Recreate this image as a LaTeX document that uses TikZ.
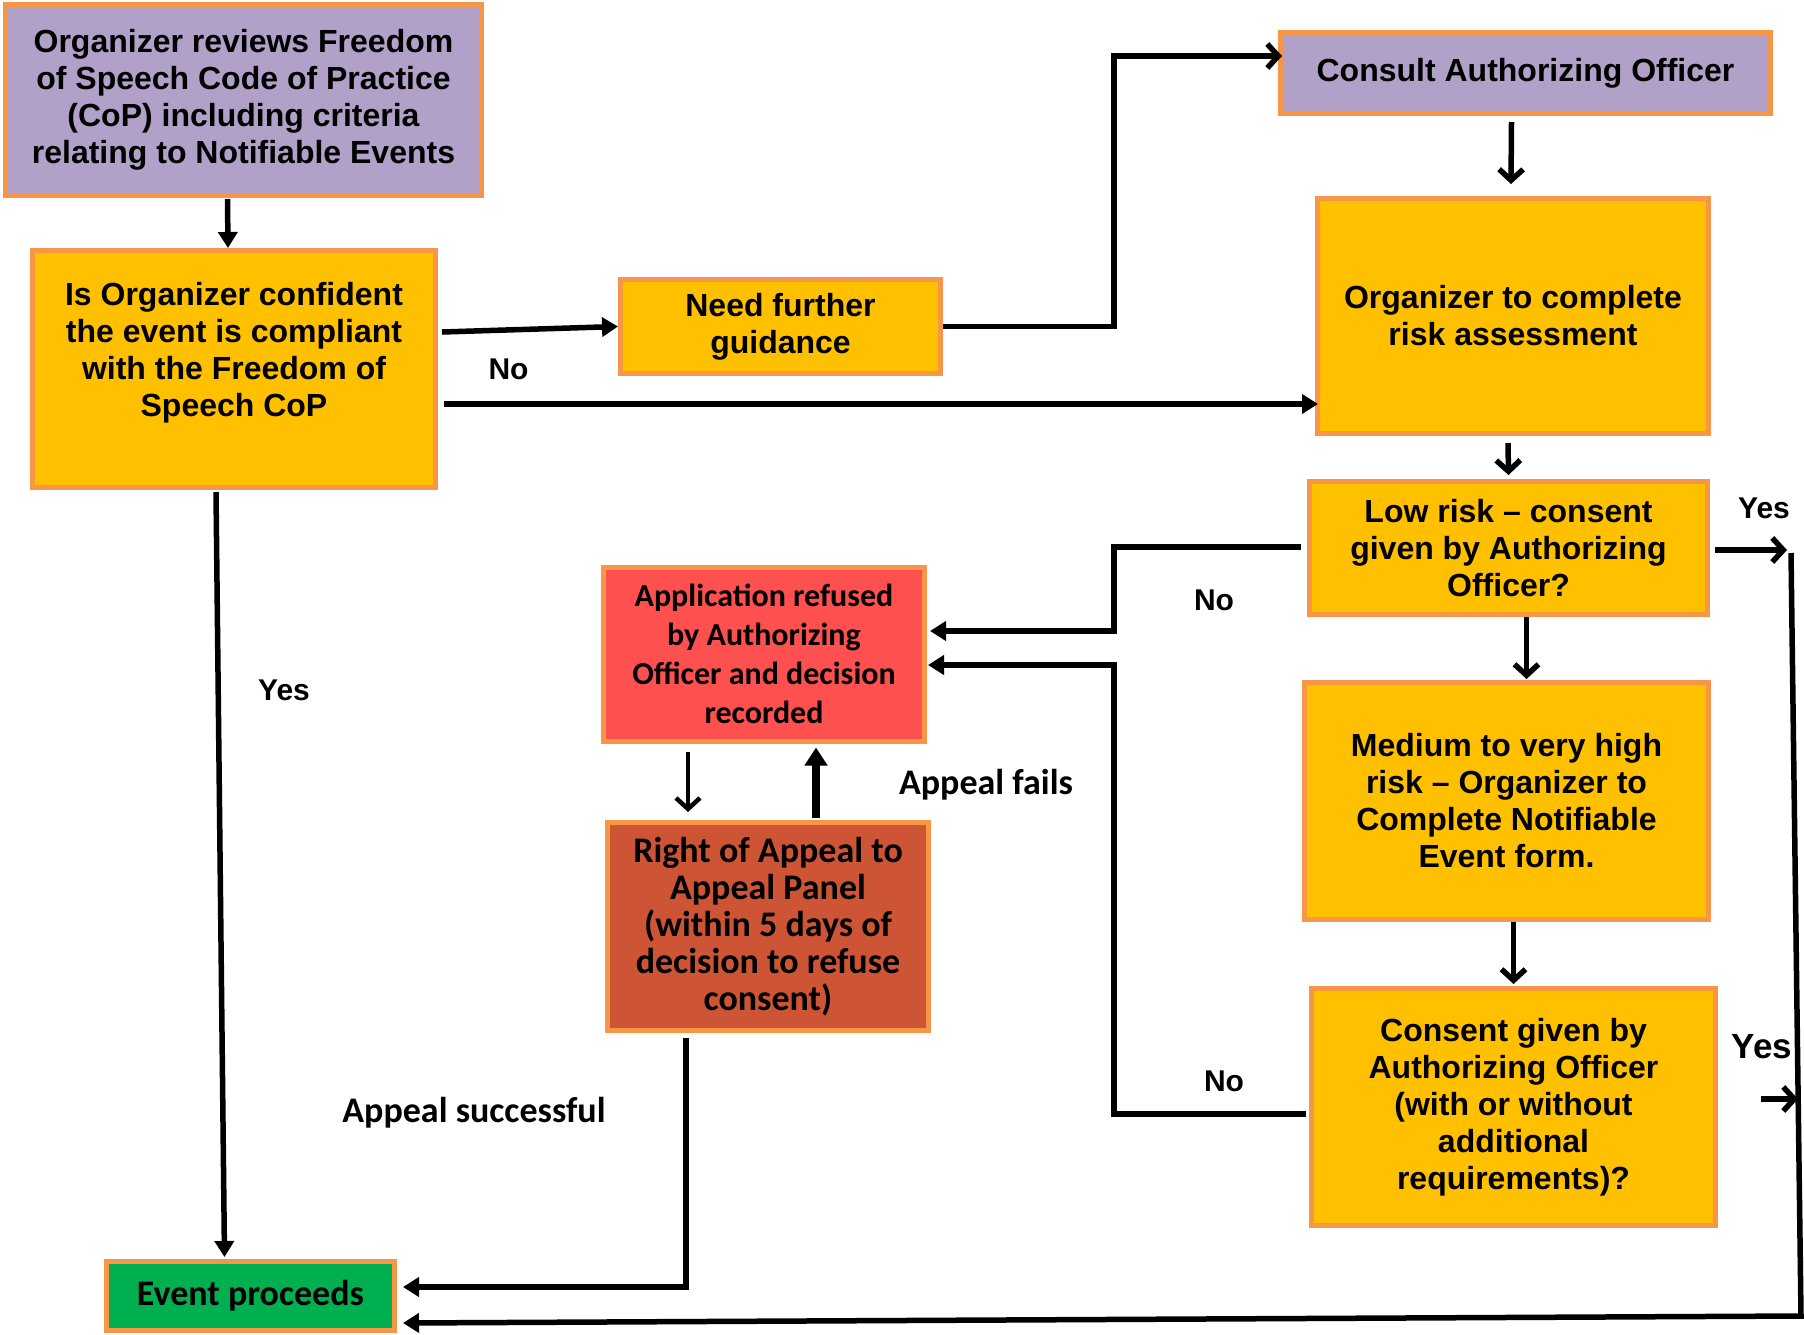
\documentclass[tikz,border=0pt]{standalone}
\usepackage{fontspec}
\setmainfont{Liberation Sans}
\newfontfamily\calfont{Carlito}
\usetikzlibrary{arrows.meta,calc}
\definecolor{borderor}{HTML}{F79646}
\definecolor{lavender}{HTML}{B1A0C7}
\definecolor{amber}{HTML}{FFC000}
\definecolor{refred}{HTML}{FF5050}
\definecolor{rust}{HTML}{CD5535}
\definecolor{okgreen}{HTML}{00B050}
\newcommand\armain{\fontsize{32}{37}\selectfont\bfseries}
\newcommand\calA{\calfont\fontsize{32}{39}\selectfont\bfseries}
\newcommand\calB{\calfont\fontsize{36}{37}\selectfont\bfseries}
\tikzset{
  box/.style={draw=borderor, line width=5pt, rectangle, inner sep=0pt, align=center, font=\armain},
  purplebox/.style={box, fill=lavender},
  yellowbox/.style={box, fill=amber},
  redbox/.style={box, fill=refred, font=\calA},
  rustbox/.style={box, fill=rust, font=\calB},
  greenbox/.style={box, fill=okgreen, font=\calB},
  lbl/.style={inner sep=0pt, font=\fontsize{30}{34}\selectfont\bfseries},
  clbl/.style={inner sep=0pt, font=\calB},
  conn/.style={line width=5.5pt, draw=black},
  filledarr/.style={conn, -{Triangle[length=16pt,width=19pt]}},
  openarr/.style={conn, -{Straight Barb[length=11pt,width=24pt]}},
}
\begin{document}
\begin{tikzpicture}[x=1pt,y=-1pt]
\useasboundingbox (0,0) rectangle (1804,1334);

% boxes
\node[purplebox, minimum width=476pt, minimum height=191pt] (top) at (243.5,100)
  {Organizer reviews Freedom\\of Speech Code of Practice\\(CoP) including criteria\\relating to Notifiable Events};
\node[yellowbox, minimum width=403pt, minimum height=237pt] (isorg) at (234,369) {};
\node[inner sep=0pt, align=center, font=\armain] (isorgtxt) at (234,353)
  {Is Organizer confident\\the event is compliant\\with the Freedom of\\Speech CoP};
\node[yellowbox, minimum width=320pt, minimum height=94pt] (need) at (780.5,326.5)
  {Need further\\guidance};
\node[purplebox, minimum width=490pt, minimum height=81pt] (consult) at (1525.5,73)
  {Consult Authorizing Officer};
\node[yellowbox, minimum width=391pt, minimum height=235pt] (risk) at (1513,316)
  {Organizer to complete\\risk assessment};
\node[yellowbox, minimum width=398pt, minimum height=133pt] (low) at (1508.5,548)
  {Low risk -- consent\\given by Authorizing\\Officer?};
\node[yellowbox, minimum width=404pt, minimum height=237pt] (medium) at (1506.5,801)
  {Medium to very high\\risk -- Organizer to\\Complete Notifiable\\Event form.};
\node[yellowbox, minimum width=404pt, minimum height=237pt] (consent) at (1513.5,1107)
  {Consent given by\\Authorizing Officer\\(with or without\\additional\\requirements)?};
\node[redbox, minimum width=321pt, minimum height=174pt] (refused) at (764,654)
  {Application refused\\by Authorizing\\Officer and decision\\recorded};
\node[rustbox, minimum width=321pt, minimum height=208pt] (appeal) at (768,926.5)
  {Right of Appeal to\\Appeal Panel\\(within 5 days of\\decision to refuse\\consent)};
\node[greenbox, minimum width=288pt, minimum height=69pt] (event) at (250.5,1296)
  {Event proceeds};

% labels
\node[lbl] (lno1) at (508.5,369) {No};
\node[lbl] (lyes1) at (284,690) {Yes};
\node[lbl] (lyes2) at (1764,508) {Yes};
\node[lbl] (lno2) at (1214,600) {No};
\node[clbl] (lfail) at (986,785) {Appeal fails};
\node[lbl, font=\fontsize{35}{38}\selectfont\bfseries] (lyes3) at (1762,1047) {Yes};
\node[lbl] (lno3) at (1224,1081) {No};
\node[clbl] (lsucc) at (474,1113) {Appeal successful};

% coordinates for right-hand return line
\coordinate (rtop) at (1791,553);
\coordinate (rbot) at (1801,1316);

% connectors
\draw[filledarr] ([xshift=-16pt,yshift=-1pt]top.south) -- ([xshift=-6pt]isorg.north);
\draw[filledarr] ([xshift=4pt,yshift=37pt]isorg.east) -- (need.west);
\draw[openarr] (need.east) -- ++(171,0) |- ([xshift=4pt,yshift=17pt]consult.west);
\draw[filledarr] ([xshift=6pt,yshift=-35pt]isorg.east) -- ([xshift=3pt,yshift=-35pt]isorg.east -| risk.west);
\draw[openarr] ([xshift=-14pt,yshift=-6pt]consult.south) -- ([xshift=-2pt,yshift=12pt]risk.north);
\draw[openarr] ([xshift=-5pt,yshift=-7pt]risk.south) -- ([xshift=0pt,yshift=4pt]low.north);
\draw[openarr] ([xshift=18pt]low.south) -- ([xshift=20pt,yshift=1pt]medium.north);
\draw[openarr] ([xshift=7pt]medium.south) -- ([yshift=2pt]consent.north);
\draw[filledarr] ([xshift=-6pt,yshift=1pt]low.west) -- ++(-187,0) |- ([xshift=3pt,yshift=23pt]refused.east);
\draw[filledarr] ([xshift=-3pt,yshift=-7pt]consent.west) -- ++(-192,0) |- ([xshift=1pt,yshift=-11pt]refused.east);
\draw[openarr, line width=4.5pt] ([xshift=-76pt,yshift=-8pt]refused.south) -- ([xshift=-80pt,yshift=8pt]appeal.north);
\draw[conn, line width=8pt, -{Triangle[length=18pt,width=22pt]}] ([xshift=48pt,yshift=2pt]appeal.north) -- ([xshift=52pt,yshift=-4pt]refused.south);
\draw[filledarr] ([xshift=-82pt,yshift=-5pt]appeal.south) |- ([xshift=6pt,yshift=9pt]event.east);
\draw[filledarr] ([xshift=-18pt,yshift=-2pt]isorg.south) -- ([xshift=-26pt,yshift=2pt]event.north);
\draw[openarr] ([xshift=5pt,yshift=-2pt]low.east) -- ++(72,0);
\draw[openarr] ([xshift=43pt,yshift=8pt]consent.east) -- ++(37,0);
\draw[filledarr] (rtop) -- (rbot) -- ([xshift=6pt,yshift=-27pt]event.east);
\end{tikzpicture}
\end{document}
